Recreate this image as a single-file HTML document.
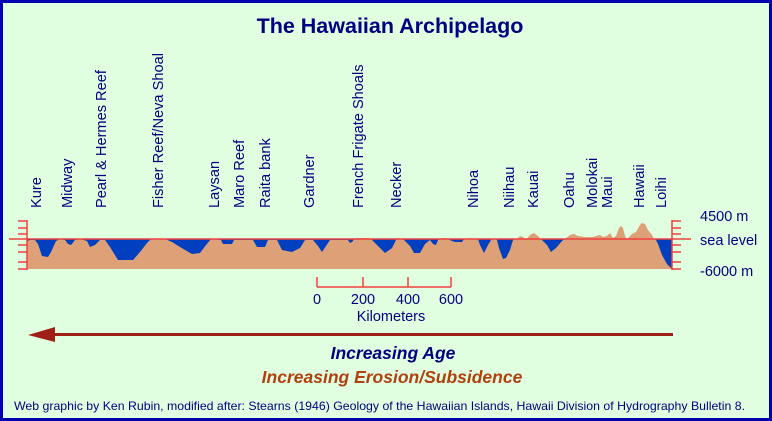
<!DOCTYPE html>
<html><head><meta charset="utf-8"><style>
html,body{margin:0;padding:0;background:#e0ffe0;}
svg{display:block;font-family:"Liberation Sans",sans-serif;}
</style></head><body>
<svg width="772" height="421" viewBox="0 0 772 421">
<rect x="0" y="0" width="772" height="421" fill="#e0ffe0"/>
<rect x="1.5" y="1.5" width="769" height="418" fill="none" stroke="#0000b0" stroke-width="3"/>
<text x="390" y="33" text-anchor="middle" font-size="21.5" font-weight="bold" fill="#000080">The Hawaiian Archipelago</text>
<g font-size="14.6" fill="#000080">
<text transform="translate(41,208) rotate(-90)">Kure</text>
<text transform="translate(72,208) rotate(-90)">Midway</text>
<text transform="translate(106,208) rotate(-90)">Pearl &amp; Hermes Reef</text>
<text transform="translate(163,208) rotate(-90)">Fisher Reef/Neva Shoal</text>
<text transform="translate(219,208) rotate(-90)">Laysan</text>
<text transform="translate(244,208) rotate(-90)">Maro Reef</text>
<text transform="translate(270,208) rotate(-90)">Raita bank</text>
<text transform="translate(314,208) rotate(-90)">Gardner</text>
<text transform="translate(363,208) rotate(-90)">French Frigate Shoals</text>
<text transform="translate(401,208) rotate(-90)">Necker</text>
<text transform="translate(478,208) rotate(-90)">Nihoa</text>
<text transform="translate(514,208) rotate(-90)">Niihau</text>
<text transform="translate(538,208) rotate(-90)">Kauai</text>
<text transform="translate(574,208) rotate(-90)">Oahu</text>
<text transform="translate(597,208) rotate(-90)">Molokai</text>
<text transform="translate(612,208) rotate(-90)">Maui</text>
<text transform="translate(644,208) rotate(-90)">Hawaii</text>
<text transform="translate(666,208) rotate(-90)">Loihi</text>
</g>
<rect x="27" y="239" width="645" height="30" fill="#0040c0"/>
<polygon fill="#dda077" points="27,269 27,241 30,240 35,240 38,244 42,256 48,257 51,252 56,241 60,239 65,240 68,244 71,245 75,240 80,239 87,241 90,247 95,245 100,240 105,240 110,247 118,260 133,260 140,252 147,243 151,239 165,239 172,242 180,247 192,254 200,253 206,245 211,239 221,240 223,244 232,244 234,240 253,240 257,247 265,247 268,240 277,240 282,250 292,252 300,248 305,240 313,240 318,246 322,252 326,246 330,240 348,240 350,243 352,242 355,238 370,238 372,240 378,246 385,253 392,248 397,238 399,238 404,240 410,246 414,253 420,253 425,244 430,240 433,244 436,245 438,240 442,238 446,238 452,241 455,242 462,242 464,239 470,238 478,239 480,245 484,253 488,245 491,240 494,238 497,240 499,248 503,259 506,258 510,250 513,240 518,238 520,236 523,237 526,240 530,235 534,233 538,236 542,240 547,245 551,252 556,248 562,241 566,238 570,235 574,234 578,236 585,237 593,237 596,236 600,235 603,237 607,236 610,233 613,238 616,236 619,228 621,226 623,228 625,236 627,239 632,234 636,232 640,225 642,223 645,224 648,230 652,235 654,239 656,240 658,244 662,255 667,264 672,269"/>
<line x1="9" y1="239" x2="691" y2="239" stroke="#f04040" stroke-width="1.5"/>
<g stroke="#f04040" stroke-width="1.5">
<line x1="27" y1="220" x2="27" y2="270"/>
<line x1="18" y1="221" x2="27" y2="221"/><line x1="18" y1="228" x2="27" y2="228"/><line x1="18" y1="234" x2="27" y2="234"/><line x1="18" y1="245" x2="27" y2="245"/><line x1="18" y1="252" x2="27" y2="252"/><line x1="18" y1="262" x2="27" y2="262"/><line x1="18" y1="269" x2="27" y2="269"/>
<line x1="672" y1="220" x2="672" y2="270"/>
<line x1="672" y1="221" x2="681" y2="221"/><line x1="672" y1="228" x2="681" y2="228"/><line x1="672" y1="234" x2="681" y2="234"/><line x1="672" y1="245" x2="681" y2="245"/><line x1="672" y1="252" x2="681" y2="252"/><line x1="672" y1="262" x2="681" y2="262"/><line x1="672" y1="269" x2="681" y2="269"/>
<line x1="317" y1="287" x2="451" y2="287"/>
<line x1="317" y1="277" x2="317" y2="287"/><line x1="363" y1="277" x2="363" y2="287"/><line x1="408" y1="277" x2="408" y2="287"/><line x1="451" y1="277" x2="451" y2="287"/>
</g>
<g font-size="14.5" fill="#000080">
<text x="700" y="221">4500 m</text>
<text x="700" y="245">sea level</text>
<text x="700" y="276">-6000 m</text>
<text x="317" y="304" text-anchor="middle">0</text>
<text x="363" y="304" text-anchor="middle">200</text>
<text x="408" y="304" text-anchor="middle">400</text>
<text x="451" y="304" text-anchor="middle">600</text>
<text x="391" y="321" text-anchor="middle">Kilometers</text>
</g>
<line x1="54" y1="334.5" x2="673" y2="334.5" stroke="#a02018" stroke-width="3"/>
<polygon points="28,335 55,327 55,342" fill="#a02018"/>
<text x="393" y="359" text-anchor="middle" font-size="17.5" font-weight="bold" font-style="italic" fill="#000080">Increasing Age</text>
<text x="392" y="383" text-anchor="middle" font-size="17.5" font-weight="bold" font-style="italic" fill="#b04010">Increasing Erosion/Subsidence</text>
<text x="14" y="410" font-size="12" fill="#000080" textLength="731" lengthAdjust="spacingAndGlyphs">Web graphic by Ken Rubin, modified after: Stearns (1946) Geology of the Hawaiian Islands, Hawaii Division of Hydrography Bulletin 8.</text>
</svg>
</body></html>
